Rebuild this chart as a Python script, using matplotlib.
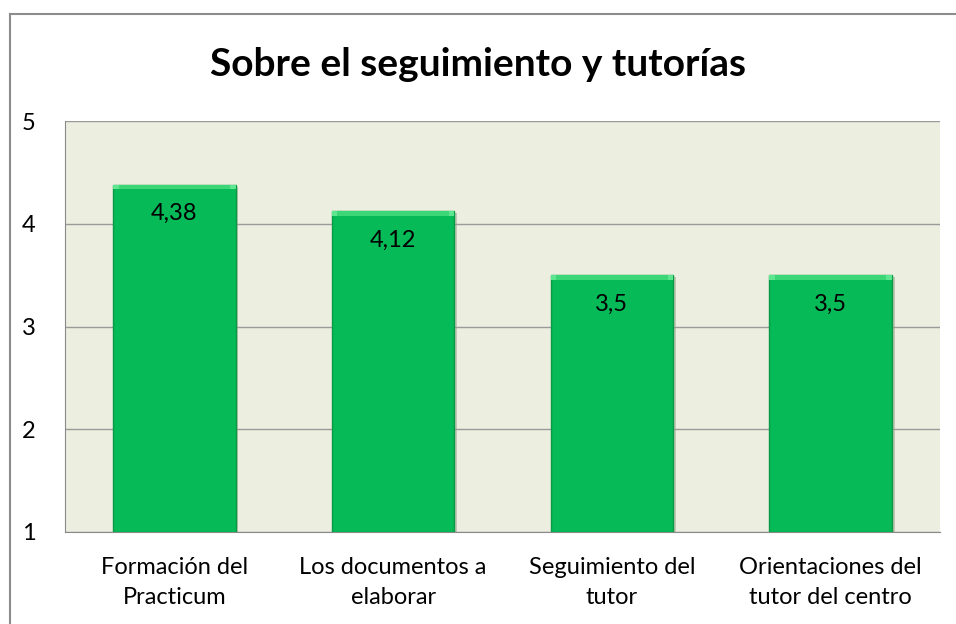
import matplotlib.pyplot as plt
from matplotlib.lines import Line2D

categories = ["Formación del\nPracticum", "Los documentos a\nelaborar",
              "Seguimiento del\ntutor", "Orientaciones del\ntutor del centro"]
values = [4.38, 4.12, 3.5, 3.5]
labels = ["4,38", "4,12", "3,5", "3,5"]
yticks = [1, 2, 3, 4, 5]

plt.rcParams['font.family'] = ['Lato', 'DejaVu Sans']

fig = plt.figure(figsize=(9.56, 6.24), dpi=100)
ax = fig.add_axes([65 / 956, 92 / 624, 875 / 956, 411 / 624])
ax.set_facecolor('#ECEEDF')

x = range(len(values))
base = 1
heights = [v - base for v in values]
# shadow
ax.bar([i + 0.012 for i in x], heights, width=0.56, bottom=base - 0.02,
       color='#9aa08a', alpha=0.5, zorder=2)
ax.bar(x, heights, width=0.56, bottom=base, color='#06BA58',
       edgecolor='#0a9a45', linewidth=1.0, zorder=3)
# top bevel highlight
ax.bar(x, [0.045] * len(values), width=0.56, bottom=[v - 0.045 for v in values],
       color='#5EE58F', edgecolor='none', zorder=4)
ax.bar(x, [0.045] * len(values), width=0.51, bottom=[v - 0.045 for v in values],
       color='#3dd676', edgecolor='none', zorder=4)

for i, (v, lab) in enumerate(zip(values, labels)):
    ax.text(i, v - 0.28, lab, ha='center', va='center', fontsize=17,
            color='black', zorder=5)

ax.set_xlim(-0.5, len(values) - 0.5)
ax.set_ylim(1, 5)
ax.set_yticks(yticks)
ax.set_yticklabels([str(t) for t in yticks], fontsize=17)
ax.set_xticks(list(x))
ax.set_xticklabels(categories, fontsize=17, linespacing=1.5)
ax.tick_params(axis='both', length=0)
ax.tick_params(axis='y', pad=21)
ax.tick_params(axis='x', pad=18)
ax.yaxis.grid(True, color='#9a9a9a', linewidth=1.0, zorder=1)
ax.set_axisbelow(True)
for side in ['top', 'right']:
    ax.spines[side].set_visible(False)
ax.spines['left'].set_color('#8a8a8a')
ax.spines['bottom'].set_color('#8a8a8a')

fig.text(0.5, 1 - 65 / 624, "Sobre el seguimiento y tutorías", ha='center',
         va='center', fontsize=28, fontweight='bold')

# chart border
fig.add_artist(Line2D([10 / 956, 10 / 956], [0, 1 - 14 / 624],
                      transform=fig.transFigure, color='#8c8c8c', linewidth=1.5))
fig.add_artist(Line2D([10 / 956, 1], [1 - 14 / 624, 1 - 14 / 624],
                      transform=fig.transFigure, color='#8c8c8c', linewidth=1.5))

fig.savefig('out.png', dpi=100)
